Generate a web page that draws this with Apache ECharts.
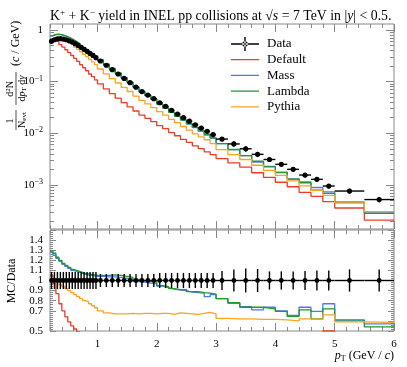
<!DOCTYPE html>
<html>
<head>
<meta charset="utf-8">
<title>K+ + K- yield</title>
<script src="https://cdn.jsdelivr.net/npm/echarts@6/dist/echarts.min.js"></script>
<style>
  html, body { margin: 0; padding: 0; background: #fff; }
  #chart { width: 407px; height: 367px; }
</style>
</head>
<body>
<div id="chart"></div>
<script>
// 分箱边界 pT (GeV/c)
const binEdges = [
  0.2, 0.25, 0.3, 0.35, 0.4, 0.45, 0.5, 0.55, 0.6, 0.65, 0.7, 0.75, 0.8, 0.85, 0.9, 0.95, 1.0,
  1.1, 1.2, 1.3, 1.4, 1.5, 1.6, 1.7, 1.8, 1.9, 2.0,
  2.1, 2.2, 2.3, 2.4, 2.5, 2.6, 2.7, 2.8, 2.9, 3.0,
  3.2, 3.4, 3.6, 3.8, 4.0, 4.2, 4.4, 4.6, 4.8, 5.0,
  5.5, 6.0
]
// 数据 (ALICE)
const dataYield = [
  0.60, 0.645, 0.67, 0.675, 0.665, 0.645, 0.615, 0.58, 0.54, 0.50, 0.46, 0.42, 0.385, 0.35, 0.32, 0.29,
  0.25, 0.207, 0.17, 0.14, 0.115, 0.095, 0.078, 0.064, 0.0548, 0.0466,
  0.0389, 0.0331, 0.0278, 0.0235, 0.0200, 0.0171, 0.0146, 0.0126, 0.0109, 0.0094,
  0.0077, 0.0062, 0.0050, 0.0039, 0.0031, 0.0025, 0.0020, 0.00155, 0.00128, 0.00095,
  0.00076, 0.00052
]
// 相对误差
const dataErr = [
  0.085, 0.085, 0.085, 0.085, 0.085, 0.085, 0.085, 0.085, 0.085, 0.085, 0.085, 0.085, 0.085, 0.085, 0.085, 0.085,
  0.065, 0.065, 0.065, 0.065, 0.065, 0.065, 0.065, 0.065, 0.065, 0.065,
  0.075, 0.075, 0.075, 0.075, 0.075, 0.075, 0.075, 0.075, 0.075, 0.075,
  0.095, 0.11, 0.12, 0.115, 0.09, 0.09, 0.09, 0.095, 0.10, 0.10,
  0.11, 0.11
]
// MC / Data
const ratioDefault = [
  1.05, 0.97, 0.87, 0.77, 0.70, 0.64, 0.59, 0.55, 0.52, 0.49, 0.46, 0.44, 0.42, 0.40, 0.39, 0.37,
  0.36, 0.35, 0.345, 0.34, 0.34, 0.34, 0.345, 0.35, 0.355, 0.36,
  0.36, 0.37, 0.37, 0.38, 0.38, 0.39, 0.39, 0.40, 0.40, 0.41,
  0.42, 0.43, 0.44, 0.44, 0.45, 0.45, 0.46, 0.46, 0.47, 0.50,
  0.47, 0.40
]
const ratioMass = [
  1.28, 1.25, 1.22, 1.19, 1.16, 1.14, 1.12, 1.10, 1.09, 1.08, 1.07, 1.06, 1.055, 1.05, 1.045, 1.04,
  1.04, 1.035, 1.035, 1.03, 1.02, 1.01, 0.99, 0.985, 0.975, 0.97,
  0.945, 0.93, 0.915, 0.905, 0.90, 0.885, 0.88, 0.875, 0.84, 0.86,
  0.82, 0.775, 0.74, 0.71, 0.735, 0.70, 0.655, 0.735, 0.695, 0.77,
  0.60, 0.57
]
const ratioLambda = [
  1.29, 1.27, 1.23, 1.20, 1.17, 1.15, 1.13, 1.11, 1.10, 1.09, 1.08, 1.07, 1.065, 1.06, 1.055, 1.05,
  1.05, 1.05, 1.055, 1.05, 1.04, 1.03, 1.01, 1.0, 0.99, 0.99,
  0.95, 0.94, 0.92, 0.91, 0.91, 0.89, 0.89, 0.88, 0.875, 0.865,
  0.82, 0.78, 0.735, 0.735, 0.72, 0.695, 0.645, 0.71, 0.62, 0.72,
  0.61, 0.54
]
const ratioPythia = [
  1.0, 0.99, 0.98, 0.96, 0.94, 0.92, 0.90, 0.88, 0.86, 0.84, 0.82, 0.80, 0.79, 0.77, 0.75, 0.73,
  0.70, 0.68, 0.67, 0.67, 0.67, 0.675, 0.67, 0.675, 0.675, 0.67,
  0.675, 0.675, 0.665, 0.68, 0.675, 0.67, 0.665, 0.675, 0.685, 0.67,
  0.625, 0.62, 0.62, 0.615, 0.615, 0.61, 0.60, 0.62, 0.615, 0.66,
  0.59, 0.585
]
// 刻度
const xTicks = [1, 2, 3, 4, 5, 6]
const logMajorTicks = [0.001, 0.01, 0.1, 1]
const logLabels = ['{b|10}{s|−3}', '{b|10}{s|−2}', '{b|10}{s|−1}', '{b|1}']

const SERIF = '"Liberation Serif", "DejaVu Serif", serif'
const frameColor = '#888'
const mcSeries = [
  { name: 'Default', ratio: ratioDefault, color: '#ee3b26' },
  { name: 'Mass', ratio: ratioMass, color: '#4a7bef' },
  { name: 'Lambda', ratio: ratioLambda, color: '#1f9a2c' },
  { name: 'Pythia', ratio: ratioPythia, color: '#ffa21f' },
]

// 对数坐标的次刻度
const logMinorTicks = []
for (let p = -4; p <= 0; p++) {
  for (let k = 2; k <= 9; k++) logMinorTicks.push(k * Math.pow(10, p))
}

const chart = echarts.init(document.getElementById('chart'), null, { renderer: 'canvas' })

function stepLine(values) {
  const pts = values.map((v, i) => [binEdges[i], v])
  pts.push([binEdges[values.length], values[values.length - 1]])
  return pts
}

function errorRenderer(radius) {
  return function (params, api) {
    const lo = api.value(0)
    const hi = api.value(1)
    const v = api.value(2)
    const e = api.value(3)
    const c = (lo + hi) / 2
    const left = api.coord([lo, v])
    const right = api.coord([hi, v])
    const top = api.coord([c, v + e])
    const bottom = api.coord([c, v - e])
    const mid = api.coord([c, v])
    const stroke = { stroke: '#000', lineWidth: 1.4 }
    return {
      type: 'group',
      children: [
        { type: 'line', shape: { x1: left[0], y1: left[1], x2: right[0], y2: right[1] }, style: stroke },
        { type: 'line', shape: { x1: top[0], y1: top[1], x2: bottom[0], y2: bottom[1] }, style: stroke },
        { type: 'circle', shape: { cx: mid[0], cy: mid[1], r: radius }, style: { fill: '#000' } },
      ],
    }
  }
}

const tickStyle = { lineStyle: { color: frameColor, width: 1 } }
function xAxes(grid, showLabels) {
  const base = { gridIndex: grid, type: 'value', min: 0.2, max: 6, axisLine: { show: false }, splitLine: { show: false } }
  return [
    { ...base, position: 'bottom', interval: 0.2, axisTick: { inside: true, length: 4, ...tickStyle }, axisLabel: { show: false } },
    { ...base, position: 'top', interval: 0.2, axisTick: { inside: true, length: 4, ...tickStyle }, axisLabel: { show: false } },
    {
      ...base,
      position: 'bottom',
      axisTick: { inside: true, length: 8, customValues: xTicks, ...tickStyle },
      axisLabel: showLabels
        ? { customValues: xTicks, margin: 8, color: '#000', fontFamily: SERIF, fontSize: 11 }
        : { show: false },
    },
    { ...base, position: 'top', axisTick: { inside: true, length: 8, customValues: xTicks, ...tickStyle }, axisLabel: { show: false } },
  ]
}

const yLog = { gridIndex: 0, type: 'log', logBase: 10, min: 1.4e-4, max: 1.3, axisLine: { show: false }, splitLine: { show: false } }
const yRatio = { gridIndex: 1, type: 'value', min: 0.5, max: 1.5, axisLine: { show: false }, splitLine: { show: false } }

// 图例里的线条图标 (上下各加一个极小的点撑开高度)
const lineIcon = 'path://M0,0H0.01V0.01H0Z M0,6.35H28V7.65H0Z M27.99,13.99H28V14H27.99Z'

const series = []
mcSeries.forEach((s) => {
  const common = {
    name: s.name, type: 'line', step: 'end', symbol: 'none', color: s.color,
    lineStyle: { width: 1.3, color: s.color }, animation: false, clip: true, z: 3,
  }
  series.push({ ...common, xAxisIndex: 0, yAxisIndex: 0, data: stepLine(s.ratio.map((r, i) => r * dataYield[i])) })
  series.push({ ...common, xAxisIndex: 4, yAxisIndex: 4, data: stepLine(s.ratio) })
})
series.push({
  name: 'Data', type: 'custom', xAxisIndex: 0, yAxisIndex: 0, z: 5, color: '#000',
  encode: { x: [0, 1], y: 2 }, renderItem: errorRenderer(2.6),
  data: dataYield.map((v, i) => [binEdges[i], binEdges[i + 1], v, v * dataErr[i]]),
})
series.push({
  name: 'Data', type: 'custom', xAxisIndex: 4, yAxisIndex: 4, z: 5, color: '#000',
  encode: { x: [0, 1], y: 2 }, renderItem: errorRenderer(2.4),
  data: dataYield.map((v, i) => [binEdges[i], binEdges[i + 1], 1, dataErr[i]]),
})

const option = {
  animation: false,
  backgroundColor: '#fff',
  title: {
    left: 45, top: 3,
    text: 'K{sup|+} + K{sup|−} yield in INEL pp collisions at √{it|s} = 7 TeV in |{it|y}| < 0.5.',
    textStyle: {
      fontFamily: SERIF, fontSize: 13.8, fontWeight: 'normal', color: '#000', lineHeight: 16,
      rich: {
        sup: { fontFamily: SERIF, fontSize: 9, verticalAlign: 'top', lineHeight: 9 },
        it: { fontFamily: SERIF, fontSize: 13.8, fontStyle: 'italic', lineHeight: 16 },
      },
    },
  },
  legend: {
    orient: 'vertical', left: 231, top: 37, padding: 0,
    itemWidth: 28, itemHeight: 14, itemGap: 1.7, selectedMode: false,
    textStyle: { fontFamily: SERIF, fontSize: 13, color: '#000', padding: [0, 0, 0, 3] },
    data: [
      {
        name: 'Data',
        icon: 'path://M0,6.3H28V7.7H0Z M11.2,7a2.8,2.8 0 1,0 5.6,0a2.8,2.8 0 1,0 -5.6,0Z M13.3,0H14.7V14H13.3Z',
        itemStyle: { color: '#000' },
      },
      ...mcSeries.map((s) => ({ name: s.name, icon: lineIcon, itemStyle: { color: s.color } })),
    ],
  },
  grid: [
    { left: 50, top: 24, width: 344, height: 205, show: true, borderColor: frameColor, borderWidth: 1 },
    { left: 50, top: 230, width: 344, height: 101, show: true, borderColor: frameColor, borderWidth: 1 },
  ],
  xAxis: [...xAxes(0, false), ...xAxes(1, true)],
  yAxis: [
    { ...yLog, position: 'left', axisTick: { inside: true, length: 4, customValues: logMinorTicks, ...tickStyle }, axisLabel: { show: false } },
    { ...yLog, position: 'right', axisTick: { inside: true, length: 4, customValues: logMinorTicks, ...tickStyle }, axisLabel: { show: false } },
    {
      ...yLog,
      position: 'left',
      axisTick: { inside: true, length: 8, customValues: logMajorTicks, ...tickStyle },
      axisLabel: {
        customValues: logMajorTicks, margin: 7, color: '#000',
        formatter: (v) => logLabels[logMajorTicks.findIndex((t) => Math.abs(t - v) / t < 1e-6)] || '',
        rich: {
          b: { fontFamily: SERIF, fontSize: 11, color: '#000', lineHeight: 14 },
          s: { fontFamily: SERIF, fontSize: 8, color: '#000', verticalAlign: 'top', lineHeight: 8 },
        },
      },
    },
    { ...yLog, position: 'right', axisTick: { inside: true, length: 8, customValues: logMajorTicks, ...tickStyle }, axisLabel: { show: false } },
    { ...yRatio, position: 'left', interval: 0.02, axisTick: { inside: true, length: 3, ...tickStyle }, axisLabel: { show: false } },
    { ...yRatio, position: 'right', interval: 0.02, axisTick: { inside: true, length: 3, ...tickStyle }, axisLabel: { show: false } },
    {
      ...yRatio, position: 'left', interval: 0.1,
      axisTick: { inside: true, length: 6, ...tickStyle },
      axisLabel: {
        margin: 7, color: '#000', fontFamily: SERIF, fontSize: 11, showMinLabel: true, hideOverlap: false,
        formatter: (v) => (v > 1.45 ? '' : Math.abs(v - 1) < 1e-6 ? '1' : v.toFixed(1)),
      },
    },
    { ...yRatio, position: 'right', interval: 0.1, axisTick: { inside: true, length: 6, ...tickStyle }, axisLabel: { show: false } },
  ],
  graphic: [
    // 纵轴标题
    {
      type: 'group', x: 16, y: 132, rotation: Math.PI / 2,
      children: [
        { type: 'text', x: 11, y: -0.5, style: { text: '1', fontFamily: SERIF, fontSize: 10, fill: '#000', align: 'center', verticalAlign: 'bottom' } },
        { type: 'line', shape: { x1: 2, y1: 0, x2: 22, y2: 0 }, style: { stroke: '#000', lineWidth: 0.7 } },
        {
          type: 'text', x: 12, y: 0.5,
          style: {
            text: '{n|N}{s|evt}', align: 'center', verticalAlign: 'top', fill: '#000',
            rich: {
              n: { fontFamily: SERIF, fontSize: 10, lineHeight: 11 },
              s: { fontFamily: SERIF, fontSize: 7, lineHeight: 7, verticalAlign: 'bottom' },
            },
          },
        },
        {
          type: 'text', x: 43, y: -0.5,
          style: {
            text: '{n|d}{s|2}{n|N}', align: 'center', verticalAlign: 'bottom', fill: '#000',
            rich: {
              n: { fontFamily: SERIF, fontSize: 10, lineHeight: 11 },
              s: { fontFamily: SERIF, fontSize: 7, lineHeight: 7, verticalAlign: 'top' },
            },
          },
        },
        { type: 'line', shape: { x1: 27, y1: 0, x2: 60, y2: 0 }, style: { stroke: '#000', lineWidth: 0.7 } },
        {
          type: 'text', x: 43.5, y: 0.5,
          style: {
            text: '{n|d}{i|p}{s|T}{n| d}{i|y}', align: 'center', verticalAlign: 'top', fill: '#000',
            rich: {
              n: { fontFamily: SERIF, fontSize: 10, lineHeight: 11 },
              i: { fontFamily: SERIF, fontSize: 10, lineHeight: 11, fontStyle: 'italic' },
              s: { fontFamily: SERIF, fontSize: 7, lineHeight: 7, verticalAlign: 'bottom' },
            },
          },
        },
        {
          type: 'text', x: 66, y: 0,
          style: {
            text: '({i|c} / GeV)', fontFamily: SERIF, fontSize: 12, fill: '#000', align: 'left', verticalAlign: 'middle',
            rich: { i: { fontFamily: SERIF, fontSize: 12, fontStyle: 'italic' } },
          },
        },
      ],
    },
    {
      type: 'text', x: 12, y: 281, rotation: Math.PI / 2,
      style: { text: 'MC/Data', fontFamily: SERIF, fontSize: 12, fill: '#000', align: 'center', verticalAlign: 'middle' },
    },
    {
      type: 'text', x: 394, y: 356,
      style: {
        text: '{i|p}{s|T} (GeV / {i|c})', fontFamily: SERIF, fontSize: 12, fill: '#000', align: 'right', verticalAlign: 'middle',
        rich: {
          i: { fontFamily: SERIF, fontSize: 12, fontStyle: 'italic', lineHeight: 14 },
          s: { fontFamily: SERIF, fontSize: 8, lineHeight: 8, verticalAlign: 'bottom' },
        },
      },
    },
  ],
  series: series,
}

chart.setOption(option)
</script>
</body>
</html>
